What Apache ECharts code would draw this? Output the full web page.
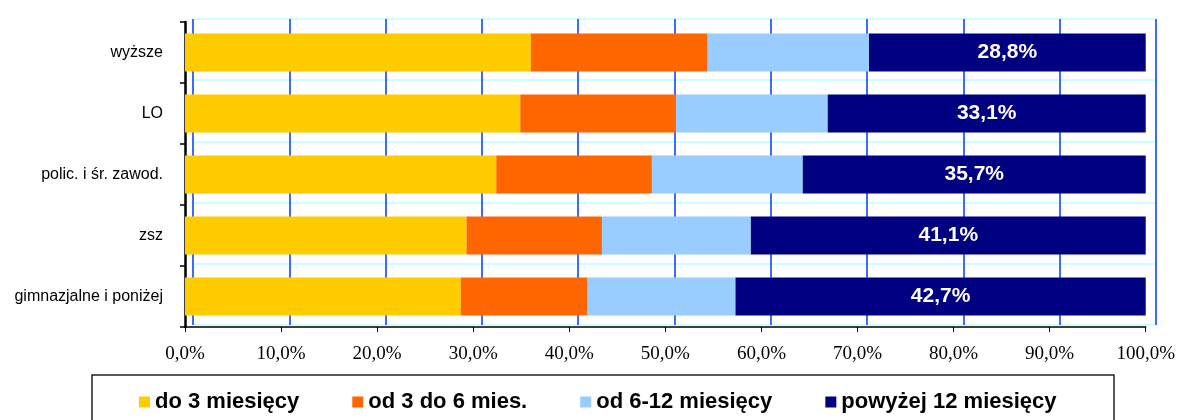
<!DOCTYPE html>
<html>
<head>
<meta charset="utf-8">
<script src="https://cdn.jsdelivr.net/npm/echarts@6/dist/echarts.min.js"></script>
<style>
html,body{margin:0;padding:0;background:#fff;}
#chart{width:1178px;height:420px;}
</style>
</head>
<body>
<div id="chart"></div>
<script>
var categories = ['wyższe', 'LO', 'polic. i śr. zawod.', 'zsz', 'gimnazjalne i poniżej'];
var seriesNames = ['do 3 miesięcy', 'od 3 do 6 mies.', 'od 6-12 miesięcy', 'powyżej 12 miesięcy'];
var upTo3 = [36.0, 34.9, 32.4, 29.3, 28.7];
var from3to6 = [18.4, 16.2, 16.2, 14.1, 13.2];
var from6to12 = [16.8, 15.8, 15.7, 15.5, 15.4];
var over12 = [28.8, 33.1, 35.7, 41.1, 42.7];
var xTicks = [0, 10, 20, 30, 40, 50, 60, 70, 80, 90, 100];
var colors = ['#FFCC00', '#FF6600', '#99CCFF', '#000080'];

function pct(v) { return v.toFixed(1).replace('.', ',') + '%'; }

var values = [upTo3, from3to6, from6to12, over12];
var series = values.map(function (arr, i) {
  return {
    name: seriesNames[i],
    type: 'bar',
    stack: 'total',
    xAxisIndex: 1,
    yAxisIndex: 1,
    barWidth: 38,
    data: arr,
    itemStyle: { color: colors[i] },
    label: i === 3 ? {
      show: true,
      position: 'inside',
      color: '#fff',
      fontFamily: 'Liberation Sans, Arial, sans-serif',
      fontWeight: 'bold',
      fontSize: 21,
      formatter: function (p) { return pct(p.value); }
    } : { show: false },
    emphasis: { disabled: true }
  };
});

var chart = echarts.init(document.getElementById('chart'), null, { renderer: 'canvas' });
chart.setOption({
  animation: false,
  backgroundColor: '#fff',
  grid: [
    { left: 193, right: 22, top: 19, bottom: 95 },
    { left: 185, right: 29, top: 22, bottom: 93 }
  ],
  xAxis: [
    {
      gridIndex: 0, type: 'value', min: 0, max: 100, interval: 10,
      axisLine: { show: false }, axisTick: { show: false }, axisLabel: { show: false },
      splitLine: { show: true, lineStyle: { color: '#3D6DF5', width: 2 } }
    },
    {
      gridIndex: 1, type: 'value', min: xTicks[0], max: xTicks[xTicks.length - 1], interval: 10,
      axisLine: { show: true, lineStyle: { color: '#000', width: 1.5 } },
      axisTick: { show: true, length: 5, lineStyle: { color: '#000' } },
      axisLabel: {
        margin: 18, color: '#000', fontSize: 19,
        fontFamily: 'Liberation Serif, Times New Roman, serif',
        formatter: function (v) { return pct(v); }
      },
      splitLine: { show: false }
    }
  ],
  yAxis: [
    {
      gridIndex: 0, type: 'category', data: categories, inverse: true,
      axisLine: { show: false }, axisTick: { show: false }, axisLabel: { show: false },
      splitLine: { show: true, lineStyle: { color: '#CCFFFF', width: 2 } }
    },
    {
      gridIndex: 1, type: 'category', data: categories, inverse: true,
      axisLine: { show: true, lineStyle: { color: '#000', width: 2.5 } },
      axisTick: { show: true, length: 5, lineStyle: { color: '#000', width: 1.5 } },
      axisLabel: {
        margin: 22, color: '#000', fontSize: 16,
        fontFamily: 'Liberation Sans, Arial, sans-serif'
      },
      splitLine: { show: false }
    }
  ],
  legend: {
    data: seriesNames,
    left: 134,
    top: 386,
    itemWidth: 11,
    itemHeight: 11,
    itemGap: 53,
    icon: 'rect',
    textStyle: {
      color: '#000', fontSize: 22, fontWeight: 'bold',
      fontFamily: 'Liberation Sans, Arial, sans-serif'
    },
    selectedMode: false
  },
  graphic: [
    {
      type: 'rect',
      shape: { x: 92, y: 375, width: 1022, height: 70 },
      style: { fill: 'none', stroke: '#222', lineWidth: 1.5 },
      silent: true
    }
  ],
  series: series
});
</script>
</body>
</html>
